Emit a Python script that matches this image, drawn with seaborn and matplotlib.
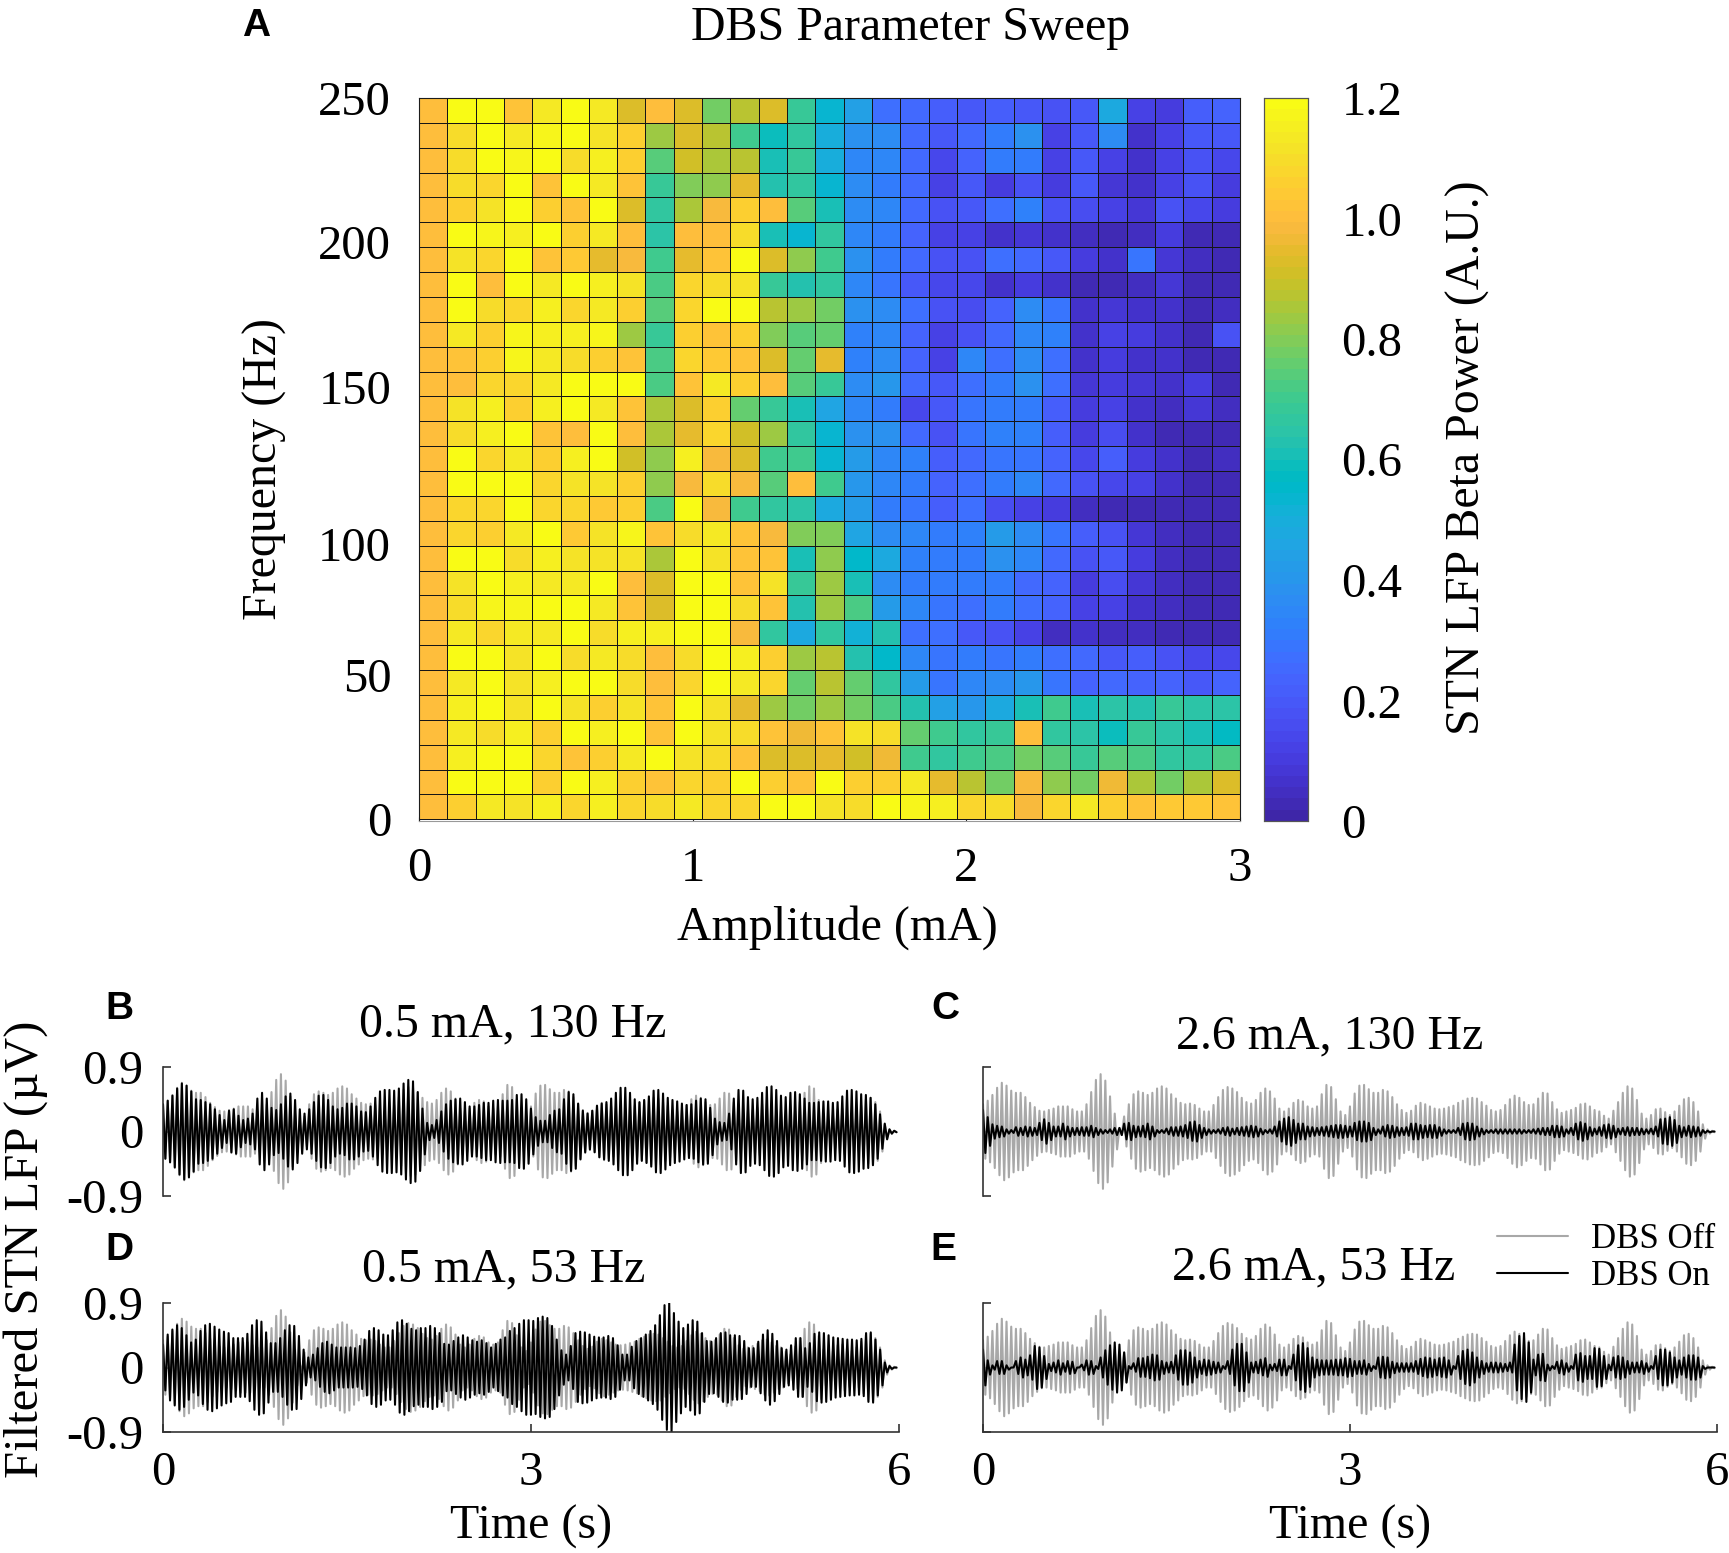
import numpy as np
import matplotlib
matplotlib.use("Agg")
import matplotlib.pyplot as plt
from matplotlib.colors import ListedColormap
from matplotlib.transforms import ScaledTranslation
import seaborn as sns

W, H = 1729, 1553

# ---------- data ----------
power_rows = [
[1.0,1.2,1.2,1.02,1.13,1.2,1.13,.93,1.0,.93,.78,.88,.92,.68,.53,.44,.28,.26,.21,.19,.21,.2,.18,.2,.48,.12,.1,.21,.23],
[1.0,1.1,1.2,1.13,1.18,1.2,1.12,1.05,.84,.93,.87,.71,.59,.67,.5,.39,.37,.26,.2,.25,.31,.38,.12,.2,.36,.06,.12,.2,.2],
[1.0,1.1,1.2,1.18,1.2,1.1,1.15,1.05,.74,.9,.86,.87,.6,.68,.5,.35,.34,.26,.14,.23,.31,.3,.12,.2,.12,.06,.12,.18,.14],
[1.0,1.1,1.08,1.2,1.02,1.2,1.13,1.02,.68,.79,.82,.95,.63,.66,.53,.37,.3,.26,.13,.2,.11,.17,.1,.2,.08,.07,.12,.17,.11],
[1.0,1.05,1.12,1.2,1.05,1.03,1.2,.93,.67,.86,.98,1.05,1.0,.74,.6,.37,.35,.26,.18,.2,.28,.32,.17,.16,.12,.08,.17,.14,.11],
[1.0,1.2,1.17,1.15,1.2,1.06,1.13,1.0,.64,1.0,1.0,1.1,.6,.53,.66,.35,.3,.23,.12,.13,.07,.09,.06,.04,.02,.05,.1,.03,.02],
[1.0,1.12,1.08,1.2,1.03,1.04,.95,.98,.7,.95,1.03,1.2,.92,.82,.7,.38,.31,.26,.18,.17,.27,.26,.2,.11,.06,.29,.08,.04,.03],
[1.0,1.2,1.0,1.2,1.13,1.2,1.15,1.12,.72,1.08,1.1,1.12,.68,.62,.66,.34,.29,.2,.14,.14,.07,.1,.07,.03,.03,.05,.08,.03,.02],
[1.0,1.2,1.1,1.08,1.15,1.08,1.13,1.05,.74,1.07,1.2,1.2,.87,.84,.78,.38,.36,.27,.17,.16,.23,.36,.29,.07,.09,.07,.06,.03,.05],
[1.0,1.13,1.05,1.18,1.15,1.15,1.18,.84,.68,1.05,1.02,1.05,.8,.74,.76,.33,.34,.24,.13,.18,.26,.34,.33,.07,.12,.11,.06,.02,.17],
[1.0,1.03,1.05,1.18,1.13,1.1,1.05,1.03,.72,1.07,1.04,1.03,.92,.75,.95,.33,.37,.23,.12,.34,.27,.36,.27,.07,.1,.07,.06,.03,.02],
[1.0,1.0,1.08,1.08,1.13,1.2,1.2,1.2,.72,1.03,1.13,1.05,1.0,.74,.68,.36,.4,.26,.2,.27,.3,.39,.27,.09,.11,.09,.07,.1,.03],
[1.0,1.12,1.15,1.05,1.15,1.2,1.13,1.02,.85,.93,1.05,.76,.68,.6,.46,.34,.31,.14,.2,.29,.31,.31,.21,.1,.12,.07,.04,.09,.05],
[1.0,1.1,1.15,1.2,1.03,1.0,1.2,1.0,.85,.94,1.07,.9,.84,.67,.53,.38,.38,.26,.17,.29,.33,.33,.21,.11,.16,.06,.03,.02,.02],
[1.0,1.2,1.07,1.13,1.05,1.15,1.2,.9,.82,1.15,.98,.93,.7,.7,.53,.42,.34,.33,.21,.25,.29,.29,.24,.14,.21,.11,.06,.03,.04],
[1.0,1.2,1.2,1.2,1.08,1.12,1.12,1.06,.82,.98,1.1,.98,.74,1.0,.7,.4,.34,.31,.23,.28,.31,.34,.26,.17,.14,.12,.06,.03,.02],
[1.0,1.08,1.07,1.2,1.07,1.08,1.04,1.05,.72,1.2,.98,.7,.66,.65,.48,.42,.31,.29,.21,.27,.16,.13,.11,.05,.03,.03,.03,.03,.02],
[1.0,1.08,1.05,1.13,1.2,1.04,1.12,1.18,1.03,1.1,1.13,1.02,.98,.8,.8,.46,.37,.34,.31,.33,.42,.37,.29,.21,.17,.09,.04,.02,.02],
[1.0,1.2,1.2,1.1,1.15,1.12,1.12,1.12,.85,1.2,1.12,1.02,1.02,.6,.82,.55,.48,.33,.31,.31,.39,.34,.26,.17,.2,.1,.05,.02,.02],
[1.0,1.12,1.2,1.15,1.13,1.13,1.2,1.0,.93,1.2,1.2,1.02,1.12,.68,.84,.6,.36,.31,.31,.31,.31,.26,.23,.11,.16,.08,.04,.02,.02],
[1.0,1.1,1.17,1.17,1.2,1.2,1.13,1.02,.92,1.2,1.2,1.1,1.02,.63,.84,.73,.42,.34,.29,.28,.31,.27,.23,.12,.13,.06,.04,.02,.02],
[1.0,1.13,1.08,1.13,1.13,1.2,1.1,1.15,1.15,1.2,1.2,.98,.67,.48,.66,.51,.62,.27,.27,.2,.18,.12,.05,.06,.05,.04,.03,.03,.02],
[1.0,1.2,1.2,1.12,1.2,1.1,1.13,1.1,1.0,1.1,1.2,1.15,1.05,.84,.87,.63,.55,.35,.29,.31,.29,.31,.27,.26,.2,.21,.18,.14,.14],
[1.0,1.13,1.2,1.12,1.15,1.2,1.2,1.1,1.0,1.08,1.2,1.13,1.08,.76,.87,.75,.66,.42,.29,.34,.37,.4,.29,.23,.26,.23,.23,.2,.23],
[1.0,1.15,1.2,1.12,1.2,1.12,1.05,1.12,1.03,1.2,1.12,.95,.83,.78,.84,.78,.73,.62,.44,.4,.48,.6,.7,.6,.65,.62,.68,.65,.64],
[1.0,1.13,1.1,1.15,1.05,1.2,1.15,1.2,1.02,1.2,1.12,1.1,1.02,.97,1.02,1.12,1.1,.76,.7,.66,.68,1.0,.66,.64,.59,.68,.64,.6,.58],
[1.0,1.15,1.2,1.2,1.07,1.03,1.05,1.13,1.2,1.12,1.1,1.02,.93,.92,.95,.9,.96,.7,.66,.7,.73,.78,.74,.68,.74,.72,.67,.67,.72],
[1.0,1.2,1.2,1.2,1.05,1.2,1.15,1.05,1.03,1.08,1.05,1.2,1.05,1.03,1.2,1.06,1.05,1.13,.94,.88,.78,.98,.82,.78,.96,.86,.78,.86,.92],
[1.0,1.05,1.13,1.12,1.15,1.07,1.15,1.07,1.1,1.13,1.07,1.08,1.2,1.2,1.12,1.1,1.2,1.17,1.15,1.07,1.1,.99,1.07,1.13,1.05,1.03,1.04,1.04,1.02],
]

# peak amplitude of each cycle, in hundredths of a microvolt
off_peaks = [38,43,51,61,68,64,57,54,54,48,40,34,29,28,30,32,35,35,35,31,28,28,38,55,72,80,71,49,25,5,21,38,52,56,54,51,54,60,63,60,52,46,40,38,39,37,32,28,28,37,48,58,62,60,55,47,41,39,44,54,60,56,46,32,28,32,40,44,42,35,32,35,52,65,62,45,28,23,35,
53,64,65,59,54,54,58,56,48,38,30,26,29,36,40,38,35,32,31,32,34,36,40,43,46,47,46,41,36,30,28,30,37,45,50,47,41,37,38,46,54,53,41,31,26,28,30,33,38,39,35,30,28,22,18,29,41,54,63,60,44,25,18,23,31,32,27,23,28,36,45,47,41,28,10,3,1]
on_peaks_b = [38,43,50,60,67,64,56,45,44,41,38,31,23,16,29,31,22,16,18,25,46,54,46,33,30,38,49,53,44,31,25,31,41,50,51,44,35,31,33,39,39,35,28,27,35,47,56,58,58,57,60,67,72,70,55,32,12,9,16,28,38,43,45,46,41,35,35,37,40,40,43,44,43,43,44,51,52,45,32,
20,15,15,23,29,31,45,55,52,39,29,25,29,36,39,41,46,54,61,61,54,45,41,44,49,57,58,53,47,44,42,39,37,38,43,46,45,33,18,13,12,25,46,58,57,48,45,47,54,62,63,58,50,48,54,55,52,46,40,40,41,42,42,40,41,49,57,58,56,52,51,47,38,24,11,3,1]
on_peaks_c = [30,20,10,8,7,3,2,6,5,7,6,5,12,17,12,7,7,11,7,5,5,6,6,8,5,3,2,3,5,5,11,12,8,7,8,11,7,2,2,4,6,6,7,9,13,14,9,5,3,2,3,5,6,4,5,6,7,8,7,4,2,3,7,14,18,20,16,11,11,7,6,5,6,7,8,9,9,8,7,
12,14,14,12,5,3,7,9,8,6,5,6,11,11,9,8,9,9,6,3,2,2,5,11,12,11,7,4,2,2,3,3,3,3,3,3,2,2,3,4,5,5,8,8,7,3,5,11,13,11,6,4,6,9,10,8,4,5,6,5,5,4,3,4,7,17,18,20,16,8,6,8,7,6,2,1,0]
on_peaks_d = [32,46,53,59,55,45,35,39,51,59,61,57,53,50,48,41,41,41,47,59,66,64,49,34,34,41,52,59,58,44,25,14,18,27,34,36,32,28,28,28,28,27,30,39,51,55,52,46,45,52,63,66,61,54,52,55,55,58,55,48,33,32,37,42,45,42,38,36,38,34,28,33,39,42,51,55,61,66,66,
65,69,71,69,58,39,24,18,30,48,50,49,46,43,42,42,44,41,31,18,18,29,37,41,46,51,59,73,87,90,76,64,55,60,66,64,48,37,36,41,48,49,45,45,44,37,27,27,36,46,52,47,37,27,25,31,41,41,27,34,47,49,48,45,42,41,40,39,39,38,40,48,49,39,25,7,2,0]
on_peaks_e = [25,10,3,9,9,3,0,9,14,11,17,30,28,16,5,7,10,6,9,8,0,4,10,9,2,14,24,31,35,32,21,2,6,13,13,15,18,17,9,7,8,17,24,24,21,14,9,11,10,8,7,2,9,25,33,33,21,7,8,11,13,4,5,11,11,2,18,31,34,27,14,11,10,10,10,11,11,13,12,
9,9,10,5,2,14,15,14,8,6,6,6,6,9,12,14,13,11,13,14,10,2,16,23,25,21,14,9,6,7,7,6,5,7,32,44,48,35,11,18,19,4,2,8,10,6,2,18,20,16,16,27,26,16,4,14,16,14,9,7,7,9,6,2,16,25,25,21,14,10,14,17,17,14,2,0,0]

amp_ticks = [0, 1, 2, 3]
freq_ticks = [0, 50, 100, 150, 200, 250]
power_ticks = [0, 0.2, 0.4, 0.6, 0.8, 1.0, 1.2]
power_tick_labels = ["0", "0.2", "0.4", "0.6", "0.8", "1.0", "1.2"]
lfp_ticks = [-0.9, 0, 0.9]
lfp_tick_labels = ["-0.9", "0", "0.9"]
time_ticks = [0, 3, 6]

parula = [
(0.2422,0.1504,0.6603),(0.2504,0.1650,0.7076),(0.2578,0.1818,0.7511),(0.2647,0.1978,0.7952),
(0.2706,0.2147,0.8364),(0.2751,0.2342,0.8710),(0.2783,0.2559,0.8991),(0.2803,0.2782,0.9221),
(0.2813,0.3006,0.9414),(0.2810,0.3228,0.9579),(0.2795,0.3447,0.9717),(0.2760,0.3667,0.9829),
(0.2699,0.3892,0.9906),(0.2602,0.4123,0.9952),(0.2440,0.4358,0.9988),(0.2206,0.4603,0.9973),
(0.1963,0.4847,0.9892),(0.1834,0.5074,0.9798),(0.1786,0.5289,0.9682),(0.1764,0.5499,0.9520),
(0.1687,0.5703,0.9359),(0.1540,0.5902,0.9218),(0.1460,0.6091,0.9079),(0.1380,0.6276,0.8973),
(0.1248,0.6459,0.8883),(0.1113,0.6635,0.8763),(0.0952,0.6798,0.8598),(0.0689,0.6948,0.8394),
(0.0297,0.7082,0.8163),(0.0036,0.7203,0.7917),(0.0067,0.7312,0.7660),(0.0433,0.7411,0.7394),
(0.0964,0.7500,0.7120),(0.1408,0.7584,0.6842),(0.1717,0.7670,0.6554),(0.1938,0.7758,0.6251),
(0.2161,0.7843,0.5923),(0.2470,0.7918,0.5567),(0.2906,0.7973,0.5188),(0.3406,0.8008,0.4789),
(0.3909,0.8029,0.4354),(0.4456,0.8024,0.3909),(0.5044,0.7993,0.3480),(0.5616,0.7942,0.3045),
(0.6174,0.7876,0.2612),(0.6720,0.7793,0.2227),(0.7242,0.7698,0.1910),(0.7738,0.7598,0.1646),
(0.8203,0.7498,0.1535),(0.8634,0.7406,0.1596),(0.9035,0.7330,0.1774),(0.9393,0.7288,0.2100),
(0.9728,0.7298,0.2394),(0.9956,0.7434,0.2371),(0.9970,0.7659,0.2199),(0.9952,0.7893,0.2028),
(0.9892,0.8136,0.1885),(0.9786,0.8386,0.1766),(0.9676,0.8639,0.1643),(0.9610,0.8890,0.1537),
(0.9597,0.9135,0.1423),(0.9628,0.9373,0.1265),(0.9691,0.9606,0.1064),(0.9769,0.9839,0.0805)]

# ---------- style ----------
sns.set_theme(style="ticks")
plt.rcParams["font.family"] = ["Liberation Serif", "DejaVu Serif"]
plt.rcParams["text.color"] = "black"
plt.rcParams["axes.labelcolor"] = "black"
plt.rcParams["xtick.color"] = "black"
plt.rcParams["ytick.color"] = "black"
TICK_FS, LABEL_FS = 35, 34.5
SPINE = "#333333"

fig = plt.figure(figsize=(W / 100, H / 100), dpi=100)


def px_axes(left, top, right, bottom):
    return fig.add_axes([left / W, 1 - bottom / H, (right - left) / W, (bottom - top) / H])


def px_text(x, y, s, **kw):
    return fig.text(x / W, 1 - y / H, s, ha="center", va="center", **kw)


def panel_letter(x, y, s):
    px_text(x, y, s, family="Liberation Sans", weight="bold", fontsize=28)


def ax_coords(ax, x, y):
    b = ax.get_position()
    return (x / W - b.x0) / b.width, ((1 - y / H) - b.y0) / b.height


# ---------- panel A ----------
ax = px_axes(419, 98, 1240, 821)
cax = px_axes(1264, 98, 1308, 821)
sns.heatmap(np.array(power_rows), ax=ax, cbar_ax=cax, cmap=ListedColormap(parula), vmin=0, vmax=1.2,
            linewidths=0.7, linecolor="#161616", square=False,
            cbar_kws={"ticks": power_ticks})
n_rows, n_cols = np.array(power_rows).shape
ax.set_ylim(n_rows + 0.07, 0)
ax.set_xlim(0, n_cols)
ax.set_xticks([a / 3 * n_cols for a in amp_ticks], [str(a) for a in amp_ticks], rotation=0)
ax.set_yticks([(250 - f) / 250 * n_rows for f in freq_ticks], [str(f) for f in freq_ticks], rotation=0)
ax.tick_params(axis="x", direction="in", length=3, width=0.8, labelsize=TICK_FS, pad=19, color="#222222")
ax.tick_params(axis="y", direction="in", length=0, labelsize=TICK_FS, pad=20)
for s in ax.spines.values():
    s.set_visible(True)
    s.set_linewidth(0.8)
    s.set_color("#1c1c1c")
ax.spines["bottom"].set_color("#999999")
for lbl in ax.get_yticklabels():
    shift = -0.18 if lbl.get_text() == "100" else -0.05
    lbl.set_transform(lbl.get_transform() + ScaledTranslation(0, shift, fig.dpi_scale_trans))
ax.set_xlabel("Amplitude (mA)", fontsize=LABEL_FS, va="center")
ax.xaxis.set_label_coords(*ax_coords(ax, 837, 928))
ax.set_ylabel("Frequency (Hz)", fontsize=LABEL_FS, va="center")
ax.yaxis.set_label_coords(*ax_coords(ax, 265, 469))
tx, ty = ax_coords(ax, 911, 28)
ax.set_title("DBS Parameter Sweep", x=tx, y=ty, va="center", fontsize=LABEL_FS, pad=0)
cax.set_yticks(power_ticks, power_tick_labels)
cax.tick_params(axis="y", length=0, labelsize=TICK_FS, pad=24)
cax.set_ylabel("STN LFP Beta Power (A.U.)", fontsize=LABEL_FS, va="center")
cax.yaxis.set_label_coords(*ax_coords(cax, 1468, 458))
for s in cax.spines.values():
    s.set_visible(True)
    s.set_linewidth(0.8)
    s.set_color("#555555")
panel_letter(256, 26, "A")


# ---------- panels B-E ----------
def zigzag(peaks):
    a = np.asarray(peaks, float) / 100
    y = np.empty(2 * a.size)
    y[0::2] = a
    y[1::2] = -a
    t = np.linspace(0, 5.98, y.size)
    return t, y


def trace_panel(box, on_peaks, title, title_xy, bottom, left):
    ax = px_axes(*box)
    t, y = zigzag(off_peaks)
    sns.lineplot(x=t, y=y, ax=ax, color="#a8a8a8", lw=1.5, estimator=None, sort=False, label="DBS Off")
    t, y = zigzag(on_peaks)
    sns.lineplot(x=t, y=y, ax=ax, color="black", lw=1.5, estimator=None, sort=False, label="DBS On")
    ax.legend().remove()
    ax.set_xlim(0, 6)
    ax.set_ylim(-0.9, 0.9)
    sns.despine(ax=ax, bottom=not bottom)
    for s in ax.spines.values():
        s.set_color(SPINE)
        s.set_linewidth(1.2)
    ax.set_yticks(lfp_ticks, lfp_tick_labels if left else [])
    ax.tick_params(axis="y", direction="in", length=6, width=1.2, color=SPINE, labelsize=TICK_FS, pad=14)
    if bottom:
        ax.set_xticks(time_ticks, [str(v) for v in time_ticks])
        ax.tick_params(axis="x", direction="in", length=6, width=1.2, color=SPINE, labelsize=TICK_FS, pad=14)
        ax.set_xlabel("Time (s)", fontsize=LABEL_FS, va="center")
        ax.xaxis.set_label_coords(0.5, ax_coords(ax, 0, 1527)[1])
    else:
        ax.set_xticks([])
    tx, ty = ax_coords(ax, *title_xy)
    ax.set_title(title, x=tx, y=ty, va="center", fontsize=LABEL_FS, pad=0)
    return ax


trace_panel((163, 1067, 899, 1196), on_peaks_b, "0.5 mA, 130 Hz", (513, 1024), False, True)
trace_panel((983, 1067, 1717, 1196), on_peaks_c, "2.6 mA, 130 Hz", (1330, 1036), False, False)
trace_panel((163, 1303, 899, 1432), on_peaks_d, "0.5 mA, 53 Hz", (504, 1269), True, True)
ax_e = trace_panel((983, 1303, 1717, 1432), on_peaks_e, "2.6 mA, 53 Hz", (1314, 1267), True, False)

h, l = ax_e.get_legend_handles_labels()
leg = ax_e.legend(h, l, loc="center left", bbox_to_anchor=(1497 / W, 1 - 1258 / H), bbox_transform=fig.transFigure,
                  frameon=False, fontsize=25, handlelength=2.04, handletextpad=0.67, labelspacing=0.1,
                  borderpad=0, borderaxespad=0)

px_text(26, 1249, "Filtered STN LFP (\u00b5V)", rotation=90, fontsize=TICK_FS)
panel_letter(119, 1009, "B")
panel_letter(945, 1009, "C")
panel_letter(119, 1250, "D")
panel_letter(943, 1250, "E")

fig.savefig("out.png", dpi=100)
